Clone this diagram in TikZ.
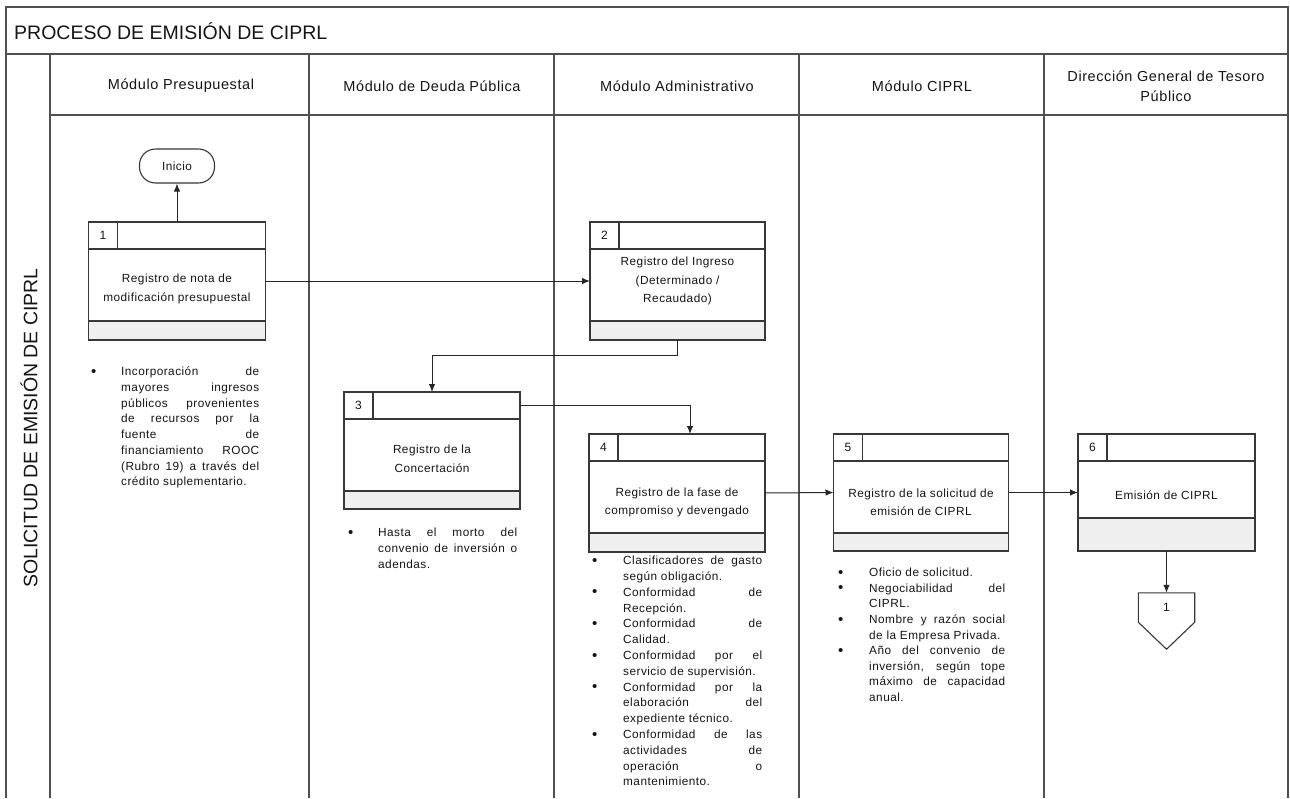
\documentclass[tikz,border=0pt]{standalone}
\usepackage{fontspec}
\setmainfont{Liberation Sans}
\newfontfamily\spacedf[LetterSpace=4]{Liberation Sans}
\usetikzlibrary{arrows.meta}

\definecolor{lncol}{HTML}{505050}
\definecolor{boxcol}{HTML}{383838}
\definecolor{footcol}{HTML}{EFEFEF}
\definecolor{txtcol}{HTML}{151515}

\newlength{\bulw}
\newlength{\bw}
\newcommand{\mybul}{\makebox[\bulw][l]{\hspace*{-1pt}\raisebox{-0.6pt}{\fontsize{15}{15}\selectfont\textbullet}}}
\newcommand{\myind}{\hspace*{\bulw}}
\newcommand{\myjl}[1]{\makebox[\bw][s]{#1}}

\tikzset{
  frame/.style={draw=lncol, line width=1.3pt},
  pbox/.style={draw=none, rectangle, inner sep=0pt, outer sep=0pt},
  boxline/.style={draw=boxcol, line width=1.1pt},
  conn/.style={draw=black!85, line width=1pt, -{Latex[length=8pt,width=6.5pt]}},
  bodytxt/.style={font=\spacedf\fontsize{11.8}{18.5}\selectfont, text=txtcol, align=center, inner sep=0pt},
  numtxt/.style={font=\fontsize{12}{14}\selectfont, text=txtcol, inner sep=0pt},
  hdrtxt/.style={font=\spacedf\fontsize{14.5}{20}\selectfont, text=txtcol, align=center, inner sep=0pt},
  bullets/.style={font=\spacedf\fontsize{11.8}{15.7}\selectfont, text=txtcol, align=left, anchor=north west, inner sep=0pt},
}

% name, center x, top y, width, body h, footer h, number, text, text dy
\newcommand{\procbox}[9]{%
  \pgfmathsetmacro{\pbtot}{27+#5+#6}%
  \node[pbox, minimum width=#4pt, minimum height=\pbtot pt] (#1) at (#2,{#3+\pbtot/2}) {};
  \fill[footcol] ([yshift=#6pt]#1.south west) rectangle (#1.south east);
  \draw[boxline] ([yshift=-27pt]#1.north west) -- ([yshift=-27pt]#1.north east);
  \draw[boxline] ([yshift=#6pt]#1.south west) -- ([yshift=#6pt]#1.south east);
  \draw[boxline] ([xshift=29pt]#1.north west) -- ([xshift=29pt,yshift=-27pt]#1.north west);
  \draw[boxline] (#1.north west) rectangle (#1.south east);
  \node[numtxt] (#1num) at ([xshift=14.5pt,yshift=-13.5pt]#1.north west) {#7};
  \node[bodytxt] (#1txt) at ([yshift={-27-#5/2+#9}]#1.north) {#8};
}

\begin{document}
\begin{tikzpicture}[x=1pt,y=-1pt]
\useasboundingbox (0,0) rectangle (1290,798);
\fill[white] (0,0) rectangle (1290,798);

% frame
\draw[frame] (6,798) -- (6,7) -- (1288,7) -- (1288,798);
\draw[frame] (6,54) -- (1288,54);
\draw[frame] (50,115) -- (1288,115);
\foreach \xx in {50,309,554,799,1044} {\draw[frame] (\xx,54) -- (\xx,798);}

\node[anchor=west, font=\fontsize{19.5}{22}\selectfont, text=txtcol, inner sep=0pt] (title) at (14,31) {PROCESO DE EMISIÓN DE CIPRL};
\node[rotate=90, font=\fontsize{19.5}{22}\selectfont, text=txtcol, inner sep=0pt] (lane) at (29,428) {SOLICITUD DE EMISIÓN DE CIPRL};

\node[hdrtxt] (h1) at (181,86) {Módulo Presupuestal};
\node[hdrtxt] (h2) at (432,86) {Módulo de Deuda Pública};
\node[hdrtxt] (h3) at (677,86) {Módulo Administrativo};
\node[hdrtxt] (h4) at (922,86) {Módulo CIPRL};
\node[hdrtxt] (h5) at (1166,86) {Dirección General de Tesoro\\Público};

% start
\node[draw=boxcol, line width=1.1pt, rounded corners=16pt, minimum width=75pt, minimum height=34pt, inner sep=0pt, font=\spacedf\fontsize{11.8}{14}\selectfont, text=txtcol] (ini) at (177,166) {Inicio};

\procbox{n1}{177}{222}{177}{72}{19}{1}{Registro de nota de\\modificación presupuestal}{-4}
\procbox{n2}{677.5}{222}{175}{72}{19}{2}{Registro del Ingreso\\(Determinado /\\Recaudado)}{4}
\procbox{n3}{432}{392}{176}{72}{18}{3}{Registro de la\\Concertación}{-4}
\procbox{n4}{677}{434}{176}{72}{19}{4}{Registro de la fase de\\compromiso y devengado}{-5.5}
\procbox{n5}{921}{434}{175}{72}{18}{5}{Registro de la solicitud de\\emisión de CIPRL}{-5.5}
\procbox{n6}{1166.5}{434}{177}{57}{33}{6}{Emisión de CIPRL}{-6}

% off-page connector
\node[inner sep=0pt, minimum width=56pt, minimum height=29pt, font=\fontsize{12}{14}\selectfont, text=txtcol] (opc) at (1166.5,607.5) {\raisebox{-5pt}{1}};
\draw[boxline] (opc.north west) -- (opc.north east) -- (opc.south east) -- ([yshift=-27pt]opc.south) -- (opc.south west) -- cycle;

% connectors
\draw[conn] (n1.north) -- (ini.south);
\draw[conn] (n1.east) -- (n2.west);
\draw[conn] (n2.south) -- ++(0,15) -| (n3.north);
\draw[conn] ([yshift=-13.5pt]n3.north east) -| ([xshift=13pt]n4.north);
\draw[conn] (n4.east) -- (n5.west);
\draw[conn] (n5.east) -- (n6.west);
\draw[conn] (n6.south) -- (opc.north);

% bullet notes
\setlength{\bulw}{29pt}\setlength{\bw}{138pt}
\node[bullets] (b1) at (92,367) {%
\mybul\myjl{Incorporación de}\\
\myind\myjl{mayores ingresos}\\
\myind\myjl{públicos provenientes}\\
\myind\myjl{de recursos por la}\\
\myind\myjl{fuente de}\\
\myind\myjl{financiamiento ROOC}\\
\myind\myjl{(Rubro 19) a través del}\\
\myind crédito suplementario.};

\setlength{\bulw}{29pt}\setlength{\bw}{139pt}
\node[bullets] (b3) at (349,528) {%
\mybul\myjl{Hasta el morto del}\\
\myind\myjl{convenio de inversión o}\\
\myind adendas.};

\setlength{\bulw}{30pt}\setlength{\bw}{139pt}
\node[bullets, font=\spacedf\fontsize{11.8}{15.8}\selectfont] (b4) at (593,556) {%
\mybul\myjl{Clasificadores de gasto}\\
\myind según obligación.\\
\mybul\myjl{Conformidad de}\\
\myind Recepción.\\
\mybul\myjl{Conformidad de}\\
\myind Calidad.\\
\mybul\myjl{Conformidad por el}\\
\myind servicio de supervisión.\\
\mybul\myjl{Conformidad por la}\\
\myind\myjl{elaboración del}\\
\myind expediente técnico.\\
\mybul\myjl{Conformidad de las}\\
\myind\myjl{actividades de}\\
\myind\myjl{operación o}\\
\myind mantenimiento.};

\setlength{\bulw}{30pt}\setlength{\bw}{136pt}
\node[bullets, font=\spacedf\fontsize{11.8}{15.6}\selectfont] (b5) at (839,568) {%
\mybul Oficio de solicitud.\\
\mybul\myjl{Negociabilidad del}\\
\myind CIPRL.\\
\mybul\myjl{Nombre y razón social}\\
\myind de la Empresa Privada.\\
\mybul\myjl{Año del convenio de}\\
\myind\myjl{inversión, según tope}\\
\myind\myjl{máximo de capacidad}\\
\myind anual.};
\end{tikzpicture}
\end{document}
